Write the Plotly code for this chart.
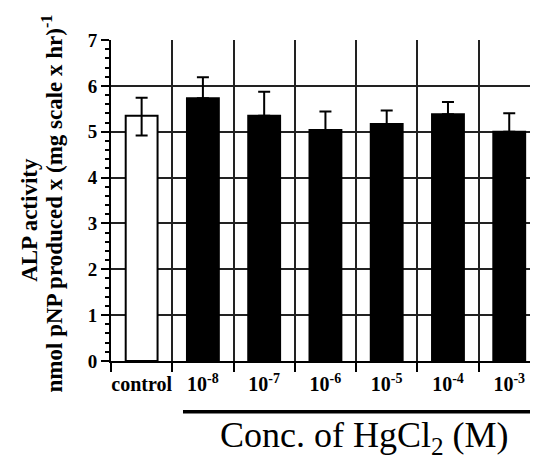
import plotly.graph_objects as go

categories = ["control", "10<sup>-8</sup>", "10<sup>-7</sup>", "10<sup>-6</sup>",
              "10<sup>-5</sup>", "10<sup>-4</sup>", "10<sup>-3</sup>"]
means = [5.35, 5.73, 5.35, 5.04, 5.17, 5.38, 5.00]
err_plus = [0.39, 0.46, 0.52, 0.40, 0.29, 0.27, 0.40]
err_minus = [0.43, 0, 0, 0, 0, 0, 0]
bar_fill = ["white", "black", "black", "black", "black", "black", "black"]
y_ticks = [0, 1, 2, 3, 4, 5, 6, 7]

SERIF = "Liberation Serif, Times New Roman, serif"

fig = go.Figure()
fig.add_trace(go.Bar(
    x=categories, y=means, width=0.52,
    marker=dict(color=bar_fill, line=dict(color="black", width=2)),
    error_y=dict(type="data", symmetric=False, array=err_plus, arrayminus=err_minus,
                 color="black", thickness=2, width=6),
    showlegend=False,
))

fig.update_layout(
    width=538, height=457,
    margin=dict(l=103, r=0, t=32, b=104),
    paper_bgcolor="white", plot_bgcolor="white",
    bargap=0.48,
    xaxis=dict(
        type="category", range=[-0.5, 6.6], automargin=False, tickangle=0,
        tickson="boundaries", ticks="outside", ticklen=9, tickwidth=2, tickcolor="black",
        ticklabelstandoff=4,
        showgrid=True, gridcolor="#222", gridwidth=1.5,
        showline=True, linecolor="black", linewidth=2,
        tickfont=dict(family=SERIF, size=20, color="black", weight="bold"),
    ),
    yaxis=dict(
        range=[0, 7], tickvals=y_ticks, automargin=False,
        ticks="outside", ticklen=8, tickwidth=2, tickcolor="black",
        showgrid=True, gridcolor="#222", gridwidth=1.5,
        showline=True, linecolor="black", linewidth=2,
        zeroline=False,
        tickfont=dict(family=SERIF, size=19, color="black", weight="bold"),
        minor=dict(ticks="outside", dtick=0.2, ticklen=4, tickwidth=1.5, tickcolor="black", showgrid=False),
    ),
)

# y-axis title, two lines
fig.add_annotation(text="ALP activity", xref="paper", yref="paper", x=-0.186, y=0.44,
                   textangle=-90, showarrow=False, xanchor="center", yanchor="middle",
                   font=dict(family=SERIF, size=23, color="black", weight="bold"))
fig.add_annotation(text="nmol pNP produced x (mg scale x hr)<sup>-1</sup>", xref="paper", yref="paper",
                   x=-0.134, y=0.49, textangle=-90, showarrow=False, xanchor="center", yanchor="middle",
                   font=dict(family=SERIF, size=23, color="black", weight="bold"))

# grouping line and x title
fig.add_shape(type="line", xref="x", yref="paper", x0=0.675, x1=6.45, y0=-0.158, y1=-0.158,
              line=dict(color="black", width=3.5))
fig.add_annotation(text="Conc. of HgCl<sub>2</sub> (M)", xref="paper", yref="paper",
                   x=0.582, y=-0.237, showarrow=False, xanchor="center", yanchor="middle",
                   font=dict(family=SERIF, size=36, color="black"))

fig.write_html("out.html")
